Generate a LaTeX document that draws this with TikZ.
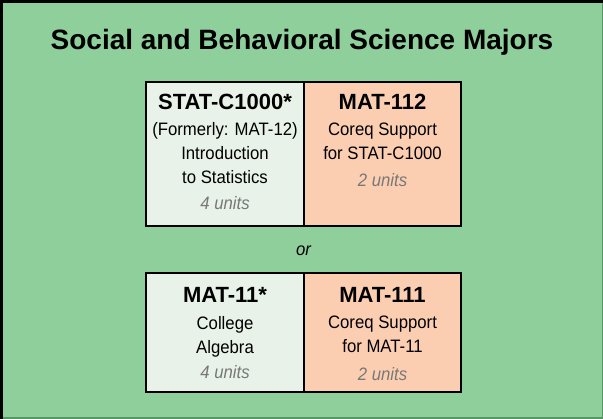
\documentclass[tikz,border=0pt]{standalone}
\usepackage{fontspec}
\setmainfont{Liberation Sans}
\newfontfamily\descfont[FakeStretch=0.93]{Liberation Sans}
\definecolor{bggreen}{RGB}{143,207,156}
\definecolor{edgegreen}{RGB}{86,150,100}
\definecolor{leftfill}{RGB}{232,242,232}
\definecolor{rightfill}{RGB}{252,206,177}
\definecolor{unitgray}{RGB}{120,120,120}
\begin{document}
\begin{tikzpicture}[x=1pt,y=-1pt,
  cell/.style={draw=black,line width=1.8pt,inner sep=0pt,outer sep=0pt},
  course/.style={anchor=base,inner sep=0pt,font=\fontsize{22}{24}\selectfont\bfseries},
  desc/.style={anchor=base,inner sep=0pt,font=\descfont\fontsize{18}{20}\selectfont},
  units/.style={anchor=base,inner sep=0pt,text=unitgray,font=\descfont\fontsize{18}{20}\selectfont\itshape}]
\useasboundingbox (0,0) rectangle (603,419);
\fill[bggreen] (0,0) rectangle (603,419);
\draw[edgegreen,line width=1.5pt] (0,418.25) -- (602.25,418.25) -- (602.25,0);
\draw[black,line width=3pt] (1.5,419) -- (1.5,1.5) -- (603,1.5);
\node[anchor=base,inner sep=0pt,font=\fontsize{28}{30}\selectfont\bfseries] (title) at (302,50) {Social and Behavioral Science Majors};
% first pair
\path[cell,fill=leftfill] (146,82) rectangle (304,226);
\path[cell,fill=rightfill] (304,82) rectangle (461,226);
\node[course] (s1) at (225,110) {STAT-C1000*};
\node[desc] (s2) at (225,136) {(Formerly: MAT-12)};
\node[desc] (s3) at (225,160) {Introduction};
\node[desc] (s4) at (225,184) {to Statistics};
\node[units] (s5) at (225,210) {4 units};
\node[course] (m1) at (382.5,110) {MAT-112};
\node[desc] (m2) at (382.5,136) {Coreq Support};
\node[desc] (m3) at (382.5,160) {for STAT-C1000};
\node[units] (m4) at (382.5,187) {2 units};
\node[anchor=base,inner sep=0pt,font=\descfont\fontsize{18}{20}\selectfont\itshape] (or) at (303.5,256) {or};
% second pair
\path[cell,fill=leftfill] (146,273) rectangle (304,392);
\path[cell,fill=rightfill] (304,273) rectangle (461,392);
\node[course] (a1) at (225,303) {MAT-11*};
\node[desc] (a2) at (225,330) {College};
\node[desc] (a3) at (225,354) {Algebra};
\node[units] (a4) at (225,379) {4 units};
\node[course] (b1) at (382.5,303) {MAT-111};
\node[desc] (b2) at (382.5,329) {Coreq Support};
\node[desc] (b3) at (382.5,353) {for MAT-11};
\node[units] (b4) at (382.5,381) {2 units};
\end{tikzpicture}
\end{document}
